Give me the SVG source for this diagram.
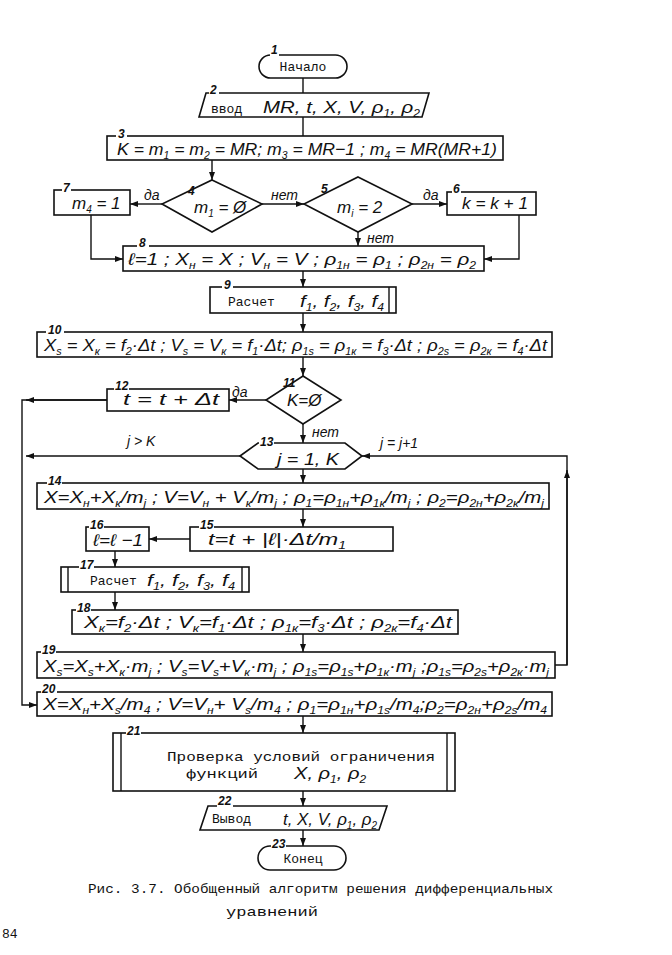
<svg xmlns="http://www.w3.org/2000/svg" width="672" height="955" viewBox="0 0 672 955">
<defs>
<marker id="ar" markerUnits="userSpaceOnUse" markerWidth="8" markerHeight="6" refX="8" refY="3" orient="auto">
<path d="M0,0 L8,3 L0,6 z" fill="#111"/>
</marker>
<style>
.bx{fill:#fff;stroke:#111;stroke-width:1.6}
.ln{fill:none;stroke:#111;stroke-width:1.4}
.f{font-family:"Liberation Sans","DejaVu Sans",sans-serif;font-style:italic;font-size:17px;fill:#111}
.tw{font-family:"Liberation Mono","DejaVu Sans Mono",monospace;font-size:13px;fill:#111}
.n{font-family:"Liberation Sans","DejaVu Sans",sans-serif;font-style:italic;font-weight:bold;font-size:12px;fill:#111}
.lb{font-family:"Liberation Sans","DejaVu Sans",sans-serif;font-style:italic;font-size:14px;fill:#111}
.b{font-size:10px;baseline-shift:-4px}
.g{fill:#fff}
</style>
</defs>
<rect width="672" height="955" fill="#fff"/>

<g id="connectors">
<path class="ln" d="M303,78 V93"/>
<path class="ln" d="M303,117 V136"/>
<path class="ln" d="M212,160 V180" marker-end="url(#ar)"/>
<path class="ln" d="M162,204 H130" marker-end="url(#ar)"/>
<path class="ln" d="M262,204 H304" marker-end="url(#ar)"/>
<path class="ln" d="M412,204 H447" marker-end="url(#ar)"/>
<path class="ln" d="M358,232 V246" marker-end="url(#ar)"/>
<path class="ln" d="M91,215 V259 H123" marker-end="url(#ar)"/>
<path class="ln" d="M519,215 V259 H484" marker-end="url(#ar)"/>
<path class="ln" d="M303,271 V287" marker-end="url(#ar)"/>
<path class="ln" d="M303,313 V332" marker-end="url(#ar)"/>
<path class="ln" d="M303,357 V376" marker-end="url(#ar)"/>
<path class="ln" d="M266,400 H229" marker-end="url(#ar)"/>
<path class="ln" d="M107,400 H22 V705 H37" marker-end="url(#ar)"/>
<path class="ln" d="M107,400 H26" marker-end="url(#ar)"/>
<path class="ln" d="M303,424 V443" marker-end="url(#ar)"/>
<path class="ln" d="M240,456 H26" marker-end="url(#ar)"/>
<path class="ln" d="M555,665 H567 V456 H362" marker-end="url(#ar)"/>
<path class="ln" d="M567,665 V470" marker-end="url(#ar)"/>
<path class="ln" d="M303,469 V483" marker-end="url(#ar)"/>
<path class="ln" d="M303,509 V527" marker-end="url(#ar)"/>
<path class="ln" d="M190,539 H149" marker-end="url(#ar)"/>
<path class="ln" d="M115,551 V567" marker-end="url(#ar)"/>
<path class="ln" d="M115,592 V610" marker-end="url(#ar)"/>
<path class="ln" d="M303,634 V652" marker-end="url(#ar)"/>
<path class="ln" d="M303,716 V733" marker-end="url(#ar)"/>
<path class="ln" d="M303,791 V806" marker-end="url(#ar)"/>
<path class="ln" d="M303,830 V846" marker-end="url(#ar)"/>
<text class="lb" x="144" y="200">да</text>
<text class="lb" x="271" y="200">нет</text>
<text class="lb" x="423" y="200">да</text>
<text class="lb" x="367" y="243">нет</text>
<text class="lb" x="232" y="397">да</text>
<text class="lb" x="312" y="437">нет</text>
<text class="lb" x="127" y="446">j &gt; K</text>
<text class="lb" x="380" y="448">j = j+1</text>
</g>

<g id="n1">
<rect class="bx" x="259" y="55" width="88" height="23" rx="11.5"/>
<rect class="g" x="270" y="44" width="9" height="13"/>
<text class="n" x="271" y="54">1</text>
<text class="tw" x="303" y="71" text-anchor="middle">Начало</text>
</g>

<g id="n2">
<path class="bx" d="M206,93 H429 L422,117 H199 Z"/>
<rect class="g" x="209" y="83" width="10" height="12"/>
<text class="n" x="210" y="94">2</text>
<text class="tw" x="211" y="113" font-size="13">ввод</text>
<text class="f" x="263" y="113" textLength="157" lengthAdjust="spacingAndGlyphs">MR, t, X, V, ρ<tspan class="b">1</tspan>, ρ<tspan class="b">2</tspan></text>
</g>

<g id="n3">
<rect class="bx" x="107" y="136" width="396" height="24"/>
<rect class="g" x="116" y="126" width="11" height="12"/>
<text class="n" x="118" y="138">3</text>
<text class="f" x="117" y="155" textLength="380" lengthAdjust="spacingAndGlyphs">K = m<tspan class="b">1</tspan> = m<tspan class="b">2</tspan> = MR;  m<tspan class="b">3</tspan> = MR−1 ;  m<tspan class="b">4</tspan> = MR(MR+1)</text>
</g>

<g id="n4">
<path class="bx" d="M212,180 L262,204 L212,232 L162,204 Z"/>
<text class="n" x="188" y="195">4</text>
<text class="f" x="194" y="213">m<tspan class="b">1</tspan> = Ø</text>
</g>

<g id="n5">
<path class="bx" d="M358,177 L412,204 L358,232 L304,204 Z"/>
<text class="n" x="321" y="193">5</text>
<text class="f" x="337" y="213">m<tspan class="b">i</tspan> = 2</text>
</g>

<g id="n6">
<rect class="bx" x="447" y="192" width="89" height="23"/>
<rect class="g" x="452" y="182" width="9" height="12"/>
<text class="n" x="453" y="193">6</text>
<text class="f" x="462" y="209" textLength="66" lengthAdjust="spacingAndGlyphs">k = k + 1</text>
</g>

<g id="n7">
<rect class="bx" x="54" y="190" width="76" height="25"/>
<rect class="g" x="62" y="181" width="9" height="11"/>
<text class="n" x="63" y="192">7</text>
<text class="f" x="72" y="209">m<tspan class="b">4</tspan> = 1</text>
</g>

<g id="n8">
<rect class="bx" x="123" y="246" width="361" height="25"/>
<rect class="g" x="137" y="235" width="12" height="13"/>
<text class="n" x="139" y="247">8</text>
<text class="f" x="128" y="265" textLength="348" lengthAdjust="spacingAndGlyphs">ℓ=1 ;  X<tspan class="b">н</tspan> = X ;  V<tspan class="b">н</tspan> = V ;  ρ<tspan class="b">1н</tspan> = ρ<tspan class="b">1</tspan> ;  ρ<tspan class="b">2н</tspan> = ρ<tspan class="b">2</tspan></text>
</g>

<g id="n9">
<rect class="bx" x="210" y="287" width="186" height="26"/>
<path class="ln" d="M389,287 V313"/>
<rect class="g" x="222" y="277" width="11" height="12"/>
<text class="n" x="224" y="289">9</text>
<text class="tw" x="228" y="306">Расчет</text>
<text class="f" x="300" y="307" textLength="84" lengthAdjust="spacingAndGlyphs">f<tspan class="b">1</tspan>, f<tspan class="b">2</tspan>, f<tspan class="b">3</tspan>, f<tspan class="b">4</tspan></text>
</g>

<g id="n10">
<rect class="bx" x="37" y="332" width="515" height="25"/>
<rect class="g" x="46" y="322" width="18" height="12"/>
<text class="n" x="48" y="334">10</text>
<text class="f" x="44" y="351" textLength="503" lengthAdjust="spacingAndGlyphs">X<tspan class="b">s</tspan> = X<tspan class="b">к</tspan> = f<tspan class="b">2</tspan>·Δt ;  V<tspan class="b">s</tspan> = V<tspan class="b">к</tspan> = f<tspan class="b">1</tspan>·Δt;  ρ<tspan class="b">1s</tspan> = ρ<tspan class="b">1к</tspan> = f<tspan class="b">3</tspan>·Δt ;  ρ<tspan class="b">2s</tspan> = ρ<tspan class="b">2к</tspan> = f<tspan class="b">4</tspan>·Δt</text>
</g>

<g id="n11">
<path class="bx" d="M303,376 L341,400 L303,424 L266,400 Z"/>
<text class="n" x="283" y="387">11</text>
<text class="f" x="287" y="406">K=Ø</text>
</g>

<g id="n12">
<rect class="bx" x="107" y="389" width="122" height="22"/>
<rect class="g" x="114" y="378" width="15" height="12"/>
<text class="n" x="115" y="390">12</text>
<text class="f" x="123" y="405" textLength="96" lengthAdjust="spacingAndGlyphs">t = t + Δt</text>
</g>

<g id="n13">
<path class="bx" d="M240,456 L258,443 H345 L362,456 L345,469 H258 Z"/>
<rect class="g" x="259" y="434" width="15" height="12"/>
<text class="n" x="260" y="446">13</text>
<text class="f" x="277" y="465" textLength="62" lengthAdjust="spacingAndGlyphs">j = 1, K</text>
</g>

<g id="n14">
<rect class="bx" x="37" y="483" width="512" height="26"/>
<rect class="g" x="47" y="473" width="15" height="12"/>
<text class="n" x="48" y="485">14</text>
<text class="f" x="44" y="503" textLength="500" lengthAdjust="spacingAndGlyphs">X=X<tspan class="b">н</tspan>+X<tspan class="b">к</tspan>/m<tspan class="b">j</tspan> ;  V=V<tspan class="b">н</tspan> + V<tspan class="b">к</tspan>/m<tspan class="b">j</tspan> ;  ρ<tspan class="b">1</tspan>=ρ<tspan class="b">1н</tspan>+ρ<tspan class="b">1к</tspan>/m<tspan class="b">j</tspan> ; ρ<tspan class="b">2</tspan>=ρ<tspan class="b">2н</tspan>+ρ<tspan class="b">2к</tspan>/m<tspan class="b">j</tspan></text>
</g>

<g id="n15">
<rect class="bx" x="190" y="527" width="203" height="24"/>
<rect class="g" x="199" y="517" width="15" height="12"/>
<text class="n" x="200" y="529">15</text>
<text class="f" x="208" y="545" textLength="138" lengthAdjust="spacingAndGlyphs">t=t + |ℓ|·Δt/m<tspan class="b">1</tspan></text>
</g>

<g id="n16">
<rect class="bx" x="86" y="527" width="63" height="24"/>
<rect class="g" x="89" y="517" width="15" height="12"/>
<text class="n" x="90" y="529">16</text>
<text class="f" x="93" y="546" textLength="50" lengthAdjust="spacingAndGlyphs">ℓ=ℓ −1</text>
</g>

<g id="n17">
<rect class="bx" x="61" y="567" width="188" height="25"/>
<path class="ln" d="M68,567 V592 M242,567 V592"/>
<rect class="g" x="79" y="557" width="15" height="12"/>
<text class="n" x="80" y="569">17</text>
<text class="tw" x="90" y="585">Расчет</text>
<text class="f" x="147" y="586" textLength="88" lengthAdjust="spacingAndGlyphs">f<tspan class="b">1</tspan>, f<tspan class="b">2</tspan>, f<tspan class="b">3</tspan>, f<tspan class="b">4</tspan></text>
</g>

<g id="n18">
<rect class="bx" x="72" y="610" width="386" height="24"/>
<rect class="g" x="76" y="600" width="15" height="12"/>
<text class="n" x="77" y="612">18</text>
<text class="f" x="84" y="628" textLength="368" lengthAdjust="spacingAndGlyphs">X<tspan class="b">к</tspan>=f<tspan class="b">2</tspan>·Δt ;  V<tspan class="b">к</tspan>=f<tspan class="b">1</tspan>·Δt ;  ρ<tspan class="b">1к</tspan>=f<tspan class="b">3</tspan>·Δt ;  ρ<tspan class="b">2к</tspan>=f<tspan class="b">4</tspan>·Δt</text>
</g>

<g id="n19">
<rect class="bx" x="37" y="652" width="518" height="26"/>
<rect class="g" x="41" y="642" width="15" height="12"/>
<text class="n" x="42" y="654">19</text>
<text class="f" x="43" y="672" textLength="506" lengthAdjust="spacingAndGlyphs">X<tspan class="b">s</tspan>=X<tspan class="b">s</tspan>+X<tspan class="b">к</tspan>·m<tspan class="b">j</tspan> ; V<tspan class="b">s</tspan>=V<tspan class="b">s</tspan>+V<tspan class="b">к</tspan>·m<tspan class="b">j</tspan> ; ρ<tspan class="b">1s</tspan>=ρ<tspan class="b">1s</tspan>+ρ<tspan class="b">1к</tspan>·m<tspan class="b">j</tspan> ;ρ<tspan class="b">1s</tspan>=ρ<tspan class="b">2s</tspan>+ρ<tspan class="b">2к</tspan>·m<tspan class="b">j</tspan></text>
</g>

<g id="n20">
<rect class="bx" x="37" y="692" width="515" height="24"/>
<rect class="g" x="41" y="681" width="16" height="12"/>
<text class="n" x="42" y="693">20</text>
<text class="f" x="43" y="710" textLength="504" lengthAdjust="spacingAndGlyphs">X=X<tspan class="b">н</tspan>+X<tspan class="b">s</tspan>/m<tspan class="b">4</tspan> ; V=V<tspan class="b">н</tspan>+ V<tspan class="b">s</tspan>/m<tspan class="b">4</tspan> ; ρ<tspan class="b">1</tspan>=ρ<tspan class="b">1н</tspan>+ρ<tspan class="b">1s</tspan>/m<tspan class="b">4</tspan>;ρ<tspan class="b">2</tspan>=ρ<tspan class="b">2н</tspan>+ρ<tspan class="b">2s</tspan>/m<tspan class="b">4</tspan></text>
</g>

<g id="n21">
<rect class="bx" x="113" y="733" width="342" height="58"/>
<path class="ln" d="M121,733 V791 M447,733 V791"/>
<rect class="g" x="126" y="723" width="15" height="12"/>
<text class="n" x="127" y="735">21</text>
<text class="tw" x="167" y="761" font-size="14" textLength="268" lengthAdjust="spacingAndGlyphs">Проверка условий ограничения</text>
<text class="tw" x="186" y="778" font-size="14" textLength="72" lengthAdjust="spacingAndGlyphs">функций</text>
<text class="f" x="294" y="779" textLength="72" lengthAdjust="spacingAndGlyphs">X, ρ<tspan class="b">1</tspan>, ρ<tspan class="b">2</tspan></text>
</g>

<g id="n22">
<path class="bx" d="M208,806 H387 L379,830 H200 Z"/>
<rect class="g" x="217" y="795" width="16" height="12"/>
<text class="n" x="218" y="805">22</text>
<text class="tw" x="212" y="823" font-size="13">Вывод</text>
<text class="f" x="283" y="825" textLength="94" lengthAdjust="spacingAndGlyphs">t, X, V, ρ<tspan class="b">1</tspan>, ρ<tspan class="b">2</tspan></text>
</g>

<g id="n23">
<rect class="bx" x="258" y="846" width="88" height="24" rx="12"/>
<rect class="g" x="271" y="836" width="15" height="12"/>
<text class="n" x="272" y="848">23</text>
<text class="tw" x="303" y="863" text-anchor="middle">Конец</text>
</g>

<g id="caption">
<text class="tw" x="88" y="893" font-size="14" textLength="465" lengthAdjust="spacingAndGlyphs">Рис. 3.7. Обобщенный алгоритм решения дифференциальных</text>
<text class="tw" x="226" y="916" font-size="14" textLength="92" lengthAdjust="spacingAndGlyphs">уравнений</text>
<text class="tw" x="2" y="938" font-size="14">84</text>
</g>
</svg>
